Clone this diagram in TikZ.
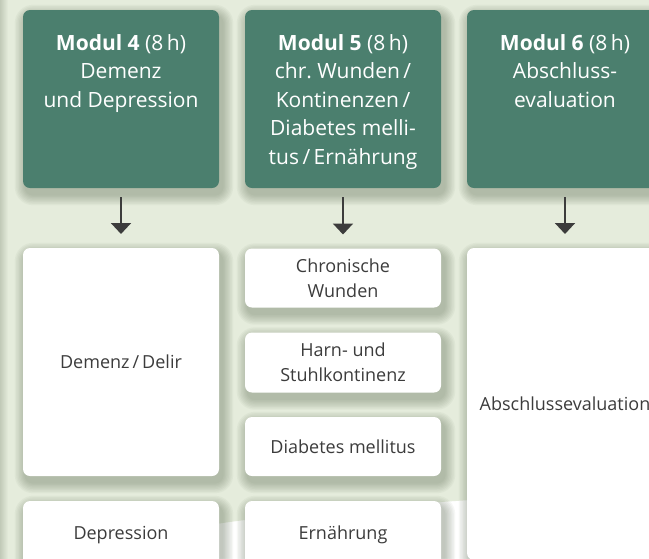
\documentclass[tikz,border=0pt]{standalone}
\usepackage{fontspec}
\setmainfont{Open Sans}
\usetikzlibrary{calc,arrows.meta}
\definecolor{bgc}{RGB}{229,236,220}
\definecolor{modteal}{RGB}{75,127,110}
\definecolor{arrc}{RGB}{60,60,60}
\definecolor{txtc}{RGB}{60,60,60}
\definecolor{shc}{RGB}{85,100,75}
\pgfdeclarelayer{bg}
\pgfdeclarelayer{shadow}
\pgfsetlayers{bg,shadow,main}
\tikzset{
  modbox/.style={rectangle, rounded corners=7pt, fill=modteal, minimum width=196pt, minimum height=178pt, inner sep=0pt, outer sep=0pt},
  modtext/.style={anchor=north, align=center, text=white, font=\fontsize{21}{28.5}\selectfont, inner sep=0pt},
  topicbox/.style={rectangle, rounded corners=7pt, fill=white, minimum width=196pt, inner sep=0pt, outer sep=0pt, align=center, text=txtc, font=\fontsize{18}{25}\selectfont},
  flow/.style={draw=arrc, line width=2pt, -{Triangle[width=20pt,length=11pt]}, shorten <=9pt, shorten >=14pt},
}
\begin{document}
\begin{tikzpicture}[x=1pt,y=-1pt]
\useasboundingbox (0,0) rectangle (649,558);
\clip (0,0) rectangle (649,558);
% modules
\node[modbox] (m4) at (121,99) {};
\node[modbox] (m5) at (343,99) {};
\node[modbox] (m6) at (565,99) {};
\node[modtext] (m4t) at ($(m4.north)+(0,24)$) {\textbf{Modul 4} (8\,h)\\Demenz\\und Depression};
\node[modtext] (m5t) at ($(m5.north)+(0,24)$) {\textbf{Modul 5} (8\,h)\\chr.\ Wunden\,/\\Kontinenzen\,/\\Diabetes melli-\\tus\,/\,Ernährung};
\node[modtext] (m6t) at ($(m6.north)+(0,24)$) {\textbf{Modul 6} (8\,h)\\Abschluss-\\evaluation};
% topics
\node[topicbox, minimum height=228pt, text depth=0pt] (demenz) at (121,362) {Demenz\,/\,Delir};
\node[topicbox, minimum height=68pt] (depression) at (121,535) {Depression};
\node[topicbox, minimum height=59pt] (wunden) at (343,278) {Chronische\\Wunden};
\node[topicbox, minimum height=60pt] (harn) at (343,362.5) {Harn- und\\Stuhlkontinenz};
\node[topicbox, minimum height=59pt] (diabetes) at (343,446.5) {Diabetes mellitus};
\node[topicbox, minimum height=68pt] (ernaehrung) at (343,535) {Ernährung};
\node[topicbox, minimum height=312pt] (abschluss) at (565,404) {Abschlussevaluation};
% arrows
\draw[flow] (m4.south) -- (demenz.north);
\draw[flow] (m5.south) -- (wunden.north);
\draw[flow] (m6.south) -- (abschluss.north);
% background
\begin{pgfonlayer}{bg}
\clip (0,0) rectangle (649,558);
\fill[white] (0,0) rectangle (649,558);
\fill[bgc] (0,0) -- (649,0) -- (649,492) -- (470,500) .. controls (250,515) and (100,530) .. (-5,590) -- cycle;
\shade[left color=shc!25!bgc, right color=bgc] (0,0) rectangle (8,558);
\end{pgfonlayer}
% shadows
\begin{pgfonlayer}{shadow}
\clip (0,0) rectangle (649,558);
\foreach \n in {m4,m5,m6,demenz,depression,wunden,harn,diabetes,ernaehrung,abschluss}{
  \foreach \i in {1,...,8}{
    \fill[shc, opacity=0.05, rounded corners=7pt+\i*1.4pt]
      ($(\n.south west)+(3-\i*1.4,6+\i*1.4)$) rectangle ($(\n.north east)+(3+\i*1.4,6-\i*1.4)$);
  }
}
\end{pgfonlayer}
\end{tikzpicture}
\end{document}
